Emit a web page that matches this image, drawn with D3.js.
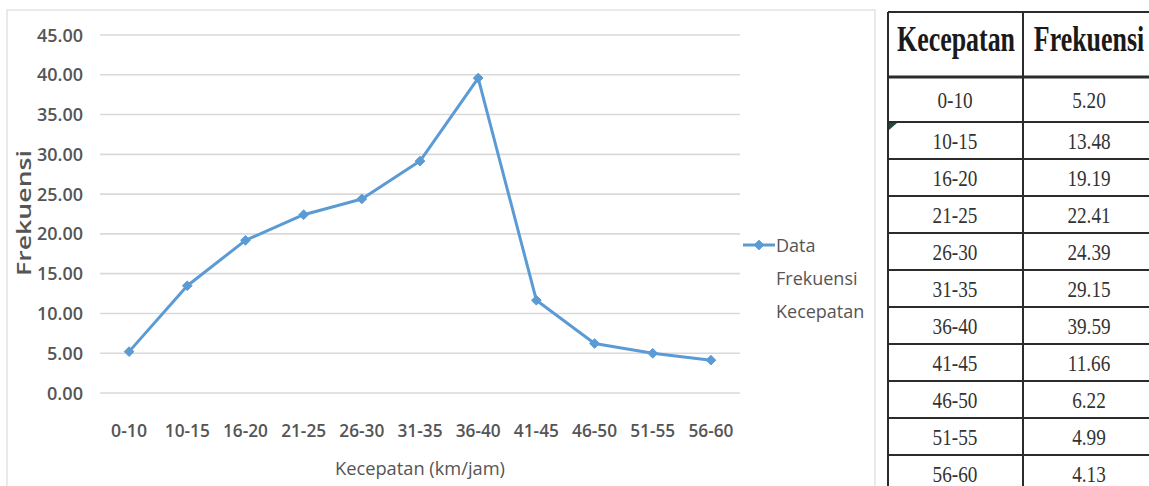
<!DOCTYPE html>
<html>
<head>
<meta charset="utf-8">
<script src="https://cdn.jsdelivr.net/npm/d3@7"></script>
<style>
  html, body { margin: 0; padding: 0; background: #fff; }
  svg { display: block; }
</style>
</head>
<body>
<svg id="chart" width="1149" height="486"></svg>
<script>
// Speed classes (km/jam) and their frequencies
const categories = ["0-10", "10-15", "16-20", "21-25", "26-30", "31-35", "36-40", "41-45", "46-50", "51-55", "56-60"];
const frekuensi = [5.20, 13.48, 19.19, 22.41, 24.39, 29.15, 39.59, 11.66, 6.22, 4.99, 4.13];
const yTicks = [0, 5, 10, 15, 20, 25, 30, 35, 40, 45];
const seriesName = ["Data", "Frekuensi", "Kecepatan"];
const tableHeader = ["Kecepatan", "Frekuensi"];

const svg = d3.select("#chart");
const W = 1149, H = 486;
svg.append("rect").attr("width", W).attr("height", H).attr("fill", "#fff");

const font = "'Open Sans', 'Noto Sans', sans-serif";
const grey = "#555";
const blue = "#5b9bd5";

// chart frame
svg.append("rect")
  .attr("x", 7).attr("y", 10).attr("width", 868).attr("height", 500)
  .attr("fill", "none").attr("stroke", "#dcdcdc").attr("stroke-width", 1.2);

const x = d3.scalePoint().domain(categories).range([100, 740]).padding(0.5);
const y = d3.scaleLinear().domain([0, 45]).range([393, 35]);

// horizontal gridlines
svg.append("g").selectAll("line").data(yTicks).join("line")
  .attr("x1", 100).attr("x2", 740)
  .attr("y1", d => y(d)).attr("y2", d => y(d))
  .attr("stroke", "#d9d9d9").attr("stroke-width", 1.6);

// y tick labels
svg.append("g").selectAll("text").data(yTicks).join("text")
  .attr("x", 83).attr("y", d => y(d) + 6.5)
  .attr("text-anchor", "end")
  .attr("font-family", font).attr("font-size", 18).attr("font-weight", 600).attr("fill", grey)
  .attr("textLength", d => d >= 10 ? 46 : 36).attr("lengthAdjust", "spacingAndGlyphs")
  .text(d3.format(".2f"));

// x tick labels
svg.append("g").selectAll("text").data(categories).join("text")
  .attr("x", d => x(d)).attr("y", 437)
  .attr("text-anchor", "middle")
  .attr("font-family", font).attr("font-size", 18).attr("font-weight", 600).attr("fill", grey)
  .attr("textLength", d => d.length === 4 ? 36 : 45).attr("lengthAdjust", "spacingAndGlyphs")
  .text(d => d);

// axis titles
svg.append("text")
  .attr("x", 420).attr("y", 475)
  .attr("text-anchor", "middle")
  .attr("font-family", font).attr("font-size", 18).attr("fill", grey)
  .attr("textLength", 170).attr("lengthAdjust", "spacingAndGlyphs")
  .text("Kecepatan (km/jam)");

svg.append("text")
  .attr("transform", "translate(31,213) rotate(-90)")
  .attr("text-anchor", "middle")
  .attr("font-family", font).attr("font-size", 19).attr("font-weight", 600)
  .attr("fill", grey)
  .attr("textLength", 126).attr("lengthAdjust", "spacingAndGlyphs")
  .text("Frekuensi");

// data line
const pts = categories.map((c, i) => [x(c), y(frekuensi[i])]);
svg.append("path")
  .attr("d", d3.line()(pts))
  .attr("fill", "none").attr("stroke", blue).attr("stroke-width", 3)
  .attr("stroke-linejoin", "round");

const diamond = d3.symbol().type(d3.symbolDiamond2).size(60);
svg.append("g").selectAll("path").data(pts).join("path")
  .attr("transform", d => `translate(${d[0]},${d[1]})`)
  .attr("d", diamond)
  .attr("fill", blue).attr("stroke", blue).attr("stroke-width", 1);

// legend
svg.append("line")
  .attr("x1", 743).attr("x2", 775).attr("y1", 245).attr("y2", 245)
  .attr("stroke", blue).attr("stroke-width", 3);
svg.append("path")
  .attr("transform", "translate(759,245)")
  .attr("d", diamond)
  .attr("fill", blue).attr("stroke", blue);
svg.append("g").selectAll("text").data(seriesName).join("text")
  .attr("x", 776).attr("y", (d, i) => 252 + i * 33)
  .attr("font-family", font).attr("font-size", 18).attr("fill", grey)
  .text(d => d);

// data table
const tx0 = 888, tx1 = 1023, tx2 = 1160;
const rowTops = [12, 77, 122];
for (let i = 1; i < categories.length; i++) rowTops.push(122 + i * 37);
const tableLine = "#2b2b2b";
const serif = "'Liberation Serif', 'Times New Roman', serif";

const tbl = svg.append("g");
// horizontal rules
tbl.selectAll("line.h").data(rowTops).join("line")
  .attr("class", "h")
  .attr("x1", tx0).attr("x2", tx2)
  .attr("y1", d => d).attr("y2", d => d)
  .attr("stroke", tableLine).attr("stroke-width", (d, i) => i === 1 ? 3 : 2);
// vertical rules
tbl.selectAll("line.v").data([tx0, tx1]).join("line")
  .attr("class", "v")
  .attr("x1", d => d).attr("x2", d => d)
  .attr("y1", 12).attr("y2", H)
  .attr("stroke", tableLine).attr("stroke-width", 2);

// header (narrowed serif)
const colCenters = [956, 1089];
tbl.selectAll("text.hd").data(tableHeader).join("text")
  .attr("class", "hd")
  .attr("transform", (d, i) => `translate(${colCenters[i]},51) scale(0.72,1)`)
  .attr("text-anchor", "middle")
  .attr("font-family", serif).attr("font-size", 36).attr("font-weight", "bold").attr("fill", "#1a1a1a")
  .text(d => d);

// body cells
const rows = categories.map((c, i) => ({ c, v: frekuensi[i], top: rowTops[i + 1], bottom: rowTops[i + 2] || rowTops[i + 1] + 37 }));
const cellText = (sel, xc, fn) => sel.append("text")
  .attr("transform", d => `translate(${xc},${(d.top + d.bottom) / 2 + 8.5}) scale(0.8,1)`)
  .attr("text-anchor", "middle")
  .attr("font-family", serif).attr("font-size", 24).attr("fill", "#333")
  .text(fn);
const rg = tbl.selectAll("g.row").data(rows).join("g").attr("class", "row");
cellText(rg, colCenters[0] - 1, d => d.c);
cellText(rg, colCenters[1], d => d3.format(".2f")(d.v));

// cell indicator mark
tbl.append("path")
  .attr("d", "M889,123 L897,123 L889,130 Z")
  .attr("fill", "#1e4d3a");
</script>
</body>
</html>
